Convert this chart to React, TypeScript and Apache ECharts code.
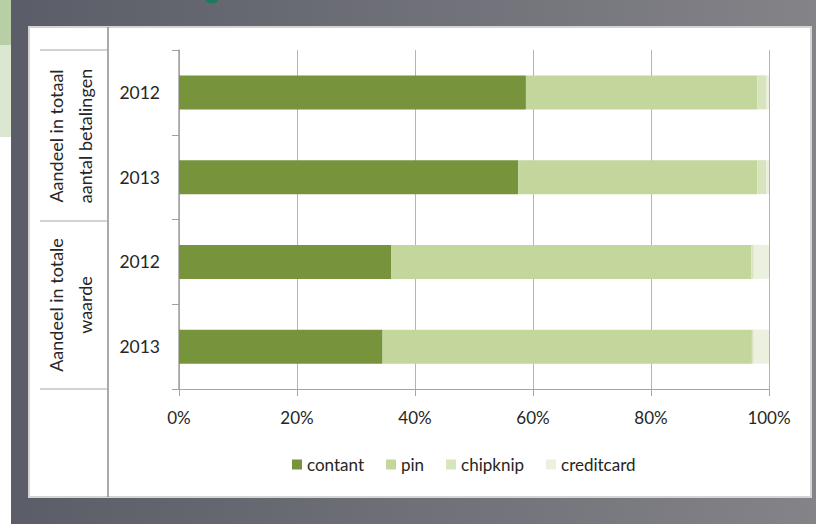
import React, { useEffect, useRef } from "react";
import * as echarts from "echarts";

const categories = ["betalingen 2012", "betalingen 2013", "waarde 2012", "waarde 2013"];
const yearLabels = ["2012", "2013", "2012", "2013"];
const seriesNames = ["contant", "pin", "chipknip", "creditcard"];
const contant = [58.8, 57.5, 36.0, 34.5];
const pin = [39.2, 40.5, 61.0, 62.6];
const chipknip = [1.6, 1.5, 0.4, 0.3];
const creditcard = [0.4, 0.5, 2.6, 2.6];
const xTicks = [0, 20, 40, 60, 80, 100];
const groupLabels = [
  ["Aandeel in totaal", "aantal betalingen"],
  ["Aandeel in totale", "waarde"],
];
const colors = ["#77933c", "#c3d69b", "#d7e4bd", "#ebf1de"];

const FONT = "Lato";

export default function App() {
  const ref = useRef<HTMLDivElement>(null);
  useEffect(() => {
    if (!ref.current) return;
    const chart = echarts.init(ref.current, null, { renderer: "svg" });
    const values = [contant, pin, chipknip, creditcard];
    const groupCenters = [136, 305];
    const lineX = [56, 85];
    const labelTexts: any[] = [];
    groupLabels.forEach((lines, g) => {
      lines.forEach((t, li) => {
        labelTexts.push({
          type: "text",
          z: -16,
          x: lineX[li],
          y: groupCenters[g],
          rotation: Math.PI / 2,
          style: {
            text: t,
            fontFamily: FONT,
            fontSize: 18,
            fill: "#262626",
            align: "center",
            verticalAlign: "middle",
          },
        });
      });
    });
    chart.setOption({
      animation: false,
      textStyle: { fontFamily: FONT },
      grid: { left: 179, right: 47, top: 50, bottom: 135, containLabel: false },
      legend: {
        left: 287,
        top: 451,
        icon: "rect",
        itemWidth: 10,
        itemHeight: 10,
        itemGap: 22,
        textStyle: { fontFamily: FONT, fontSize: 17, color: "#262626" },
        data: seriesNames,
      },
      xAxis: {
        type: "value",
        min: xTicks[0] / 100,
        max: xTicks[xTicks.length - 1] / 100,
        interval: 0.2,
        axisLine: { show: true, lineStyle: { color: "#a6a6a6", width: 1 } },
        axisTick: { show: true, length: 7, lineStyle: { color: "#a6a6a6" } },
        splitLine: { show: true, lineStyle: { color: "#b4b4b4", width: 1 } },
        axisLabel: {
          margin: 20,
          fontFamily: FONT,
          fontSize: 17,
          color: "#262626",
          formatter: (v: number) => Math.round(v * 100) + "%",
        },
      },
      yAxis: {
        type: "category",
        inverse: true,
        data: categories,
        axisLine: { show: true, lineStyle: { color: "#a0a0a0", width: 1.5 } },
        axisTick: { show: true, length: 7, lineStyle: { color: "#a0a0a0" } },
        axisLabel: {
          margin: 19,
          fontFamily: FONT,
          fontSize: 17.5,
          color: "#262626",
          formatter: (_v: string, i: number) => yearLabels[i],
        },
      },
      series: seriesNames.map((name, k) => ({
        name,
        type: "bar",
        stack: "total",
        barWidth: 34,
        itemStyle: { color: colors[k] },
        data: values[k].map((v) => v / 100),
      })),
      graphic: [
        {
          type: "rect",
          z: -20,
          silent: true,
          shape: { x: 0, y: 0, width: 816, height: 524 },
          style: {
            fill: new echarts.graphic.LinearGradient(0, 0, 1, 0, [
              { offset: 0, color: "#5a5d67" },
              { offset: 1, color: "#838388" },
            ]),
          },
        },
        { type: "rect", z: -19, shape: { x: 0, y: 0, width: 11, height: 45 }, style: { fill: "#b8cea4" } },
        { type: "rect", z: -19, shape: { x: 0, y: 45, width: 11, height: 92 }, style: { fill: "#dbe7d0" } },
        { type: "rect", z: -19, shape: { x: 0, y: 137, width: 11, height: 387 }, style: { fill: "#ffffff" } },
        { type: "ellipse", z: -19, shape: { cx: 212, cy: 0, rx: 6, ry: 3.5 }, style: { fill: "#1c7a5c" } },
        {
          type: "rect",
          z: -18,
          shape: { x: 29, y: 27, width: 782, height: 470 },
          style: { fill: "#ffffff", stroke: "#d4d4d4", lineWidth: 2 },
        },
        { type: "line", z: -17, shape: { x1: 108, y1: 27, x2: 108, y2: 497 }, style: { stroke: "#8c8c8c", lineWidth: 1.5 } },
        { type: "line", z: -17, shape: { x1: 40, y1: 50, x2: 108, y2: 50 }, style: { stroke: "#a6a6a6", lineWidth: 1 } },
        { type: "line", z: -17, shape: { x1: 40, y1: 221, x2: 108, y2: 221 }, style: { stroke: "#a6a6a6", lineWidth: 1 } },
        { type: "line", z: -17, shape: { x1: 40, y1: 389, x2: 108, y2: 389 }, style: { stroke: "#a6a6a6", lineWidth: 1 } },
        ...labelTexts,
      ],
    });
    return () => chart.dispose();
  }, []);
  return (
    <div
      ref={ref}
      style={{ position: "absolute", left: 0, top: 0, width: 816, height: 524 }}
    />
  );
}
